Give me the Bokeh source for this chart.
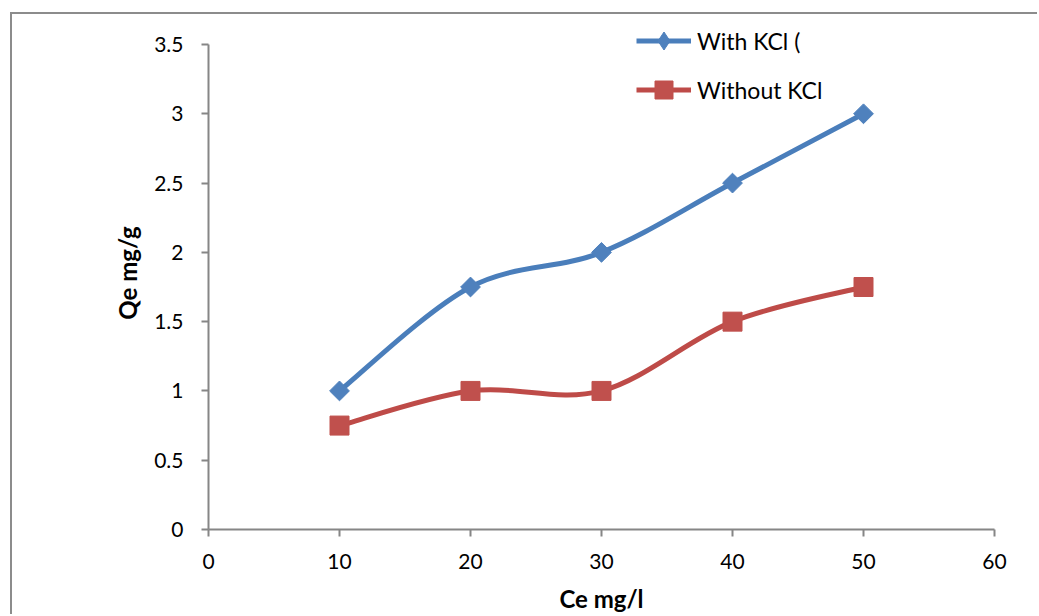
import numpy as np
from bokeh.plotting import figure
from bokeh.models import Legend, LegendItem, FixedTicker, Range1d, ColumnDataSource
from bokeh.embed import file_html
from bokeh.resources import INLINE

# ---- data ----
ce = [10, 20, 30, 40, 50]
qe_with = [1.0, 1.75, 2.0, 2.5, 3.0]
qe_without = [0.75, 1.0, 1.0, 1.5, 1.75]
series_names = ["With KCl (", "Without KCl"]
x_ticks = [0, 10, 20, 30, 40, 50, 60]
y_ticks = [0, 0.5, 1, 1.5, 2, 2.5, 3, 3.5]
y_tick_labels = ["0", "0.5", "1", "1.5", "2", "2.5", "3", "3.5"]
x_title = "Ce mg/l"
y_title = "Qe mg/g"

FONT = "Lato"
AXIS_COL = "#868686"

# layout (screen pixels of the window)
OFF_X, OFF_Y = 12, 14          # chart-area border offset (incl. 2px border)
FRAME_L, FRAME_R, FRAME_T, FRAME_B = 208, 994, 16, 529
Y_TOP_TICK_PX = 44             # where 3.5 sits
y_end = 3.5 * (FRAME_B - FRAME_T) / (FRAME_B - Y_TOP_TICK_PX)


def smooth_segments(xs, ys):
    """Excel-style smoothed line: cubic Bezier control points per segment."""
    n = len(xs)
    d = dict(x0=[], y0=[], x1=[], y1=[], cx0=[], cy0=[], cx1=[], cy1=[])
    for i in range(n - 1):
        p0 = (xs[max(i - 1, 0)], ys[max(i - 1, 0)])
        p1 = (xs[i], ys[i])
        p2 = (xs[i + 1], ys[i + 1])
        p3 = (xs[min(i + 2, n - 1)], ys[min(i + 2, n - 1)])
        d["x0"].append(p1[0]); d["y0"].append(p1[1])
        d["x1"].append(p2[0]); d["y1"].append(p2[1])
        d["cx0"].append(p1[0] + (p2[0] - p0[0]) / 6.0)
        d["cy0"].append(p1[1] + (p2[1] - p0[1]) / 6.0)
        d["cx1"].append(p2[0] - (p3[0] - p1[0]) / 6.0)
        d["cy1"].append(p2[1] - (p3[1] - p1[1]) / 6.0)
    return ColumnDataSource(d)


W, H = 1039 - OFF_X, 616 - OFF_Y
p = figure(width=W, height=H, x_range=Range1d(0, 60), y_range=Range1d(0, y_end),
           output_backend="svg", toolbar_location=None,
           min_border_left=FRAME_L - OFF_X, min_border_right=1039 - FRAME_R,
           min_border_top=FRAME_T - OFF_Y, min_border_bottom=616 - FRAME_B)
p.styles = {"margin-left": f"{OFF_X - 2}px", "margin-top": f"{OFF_Y - 2}px",
            "border-left": "2px solid #8C8C8C", "border-top": "2px solid #8C8C8C"}
p.outline_line_color = None
p.xgrid.grid_line_color = None
p.ygrid.grid_line_color = None
p.background_fill_color = "white"
p.border_fill_color = "white"

for ax in (p.xaxis[0], p.yaxis[0]):
    ax.axis_line_color = AXIS_COL
    ax.axis_line_width = 2
    ax.major_tick_line_color = AXIS_COL
    ax.major_tick_line_width = 2
    ax.major_tick_out = 7
    ax.major_tick_in = 0
    ax.minor_tick_line_color = None
    ax.major_label_text_font = FONT
    ax.major_label_text_font_size = "21px"
    ax.major_label_text_color = "#000000"
    ax.axis_label_text_font = FONT
    ax.axis_label_text_font_size = "24px"
    ax.axis_label_text_font_style = "bold"
    ax.axis_label_text_color = "#000000"

p.xaxis.ticker = FixedTicker(ticks=x_ticks)
p.yaxis.ticker = FixedTicker(ticks=y_ticks)
p.yaxis.bounds = (0, 3.5)
p.yaxis.major_label_overrides = {t: l for t, l in zip(y_ticks, y_tick_labels)}
p.xaxis.axis_label = x_title
p.yaxis.axis_label = y_title
p.xaxis.major_label_standoff = 17
p.yaxis.major_label_standoff = 18
p.xaxis.axis_label_standoff = 12
p.yaxis.axis_label_standoff = 9

blue_line, blue_mark = "#4A7EBB", "#4F81BD"
red_line, red_mark = "#BE4B48", "#C0504D"

p.bezier(x0="x0", y0="y0", x1="x1", y1="y1", cx0="cx0", cy0="cy0", cx1="cx1", cy1="cy1",
         source=smooth_segments(ce, qe_with), line_color=blue_line, line_width=5)
p.bezier(x0="x0", y0="y0", x1="x1", y1="y1", cx0="cx0", cy0="cy0", cx1="cx1", cy1="cy1",
         source=smooth_segments(ce, qe_without), line_color=red_line, line_width=5)

p.scatter(ce, qe_with, marker="square", angle=np.pi / 4, size=14,
          fill_color=blue_mark, line_color=blue_mark)
p.scatter(ce, qe_without, marker="square", size=19,
          fill_color=red_mark, line_color=red_mark)

# legend-only renderers (no data drawn)
l1 = p.line([np.nan], [np.nan], line_color=blue_line, line_width=5)
l2 = p.line([np.nan], [np.nan], line_color=red_line, line_width=5)
m1 = p.scatter([np.nan], [np.nan], marker="diamond", fill_color=blue_mark, line_color=blue_mark)
m2 = p.scatter([np.nan], [np.nan], marker="square", fill_color=red_mark, line_color=red_mark)

legend = Legend(items=[LegendItem(label=series_names[0], renderers=[l1, m1]),
                       LegendItem(label=series_names[1], renderers=[l2, m2])],
                location=(636 - FRAME_L, FRAME_B - 112), orientation="vertical",
                glyph_width=55, glyph_height=45, label_height=20, spacing=4,
                padding=0, margin=0, border_line_color=None, background_fill_alpha=0,
                label_text_font=FONT, label_text_font_size="23px", label_standoff=6,
                label_text_color="#000000")
p.add_layout(legend)

open("out.html", "w").write(file_html(p, INLINE))
